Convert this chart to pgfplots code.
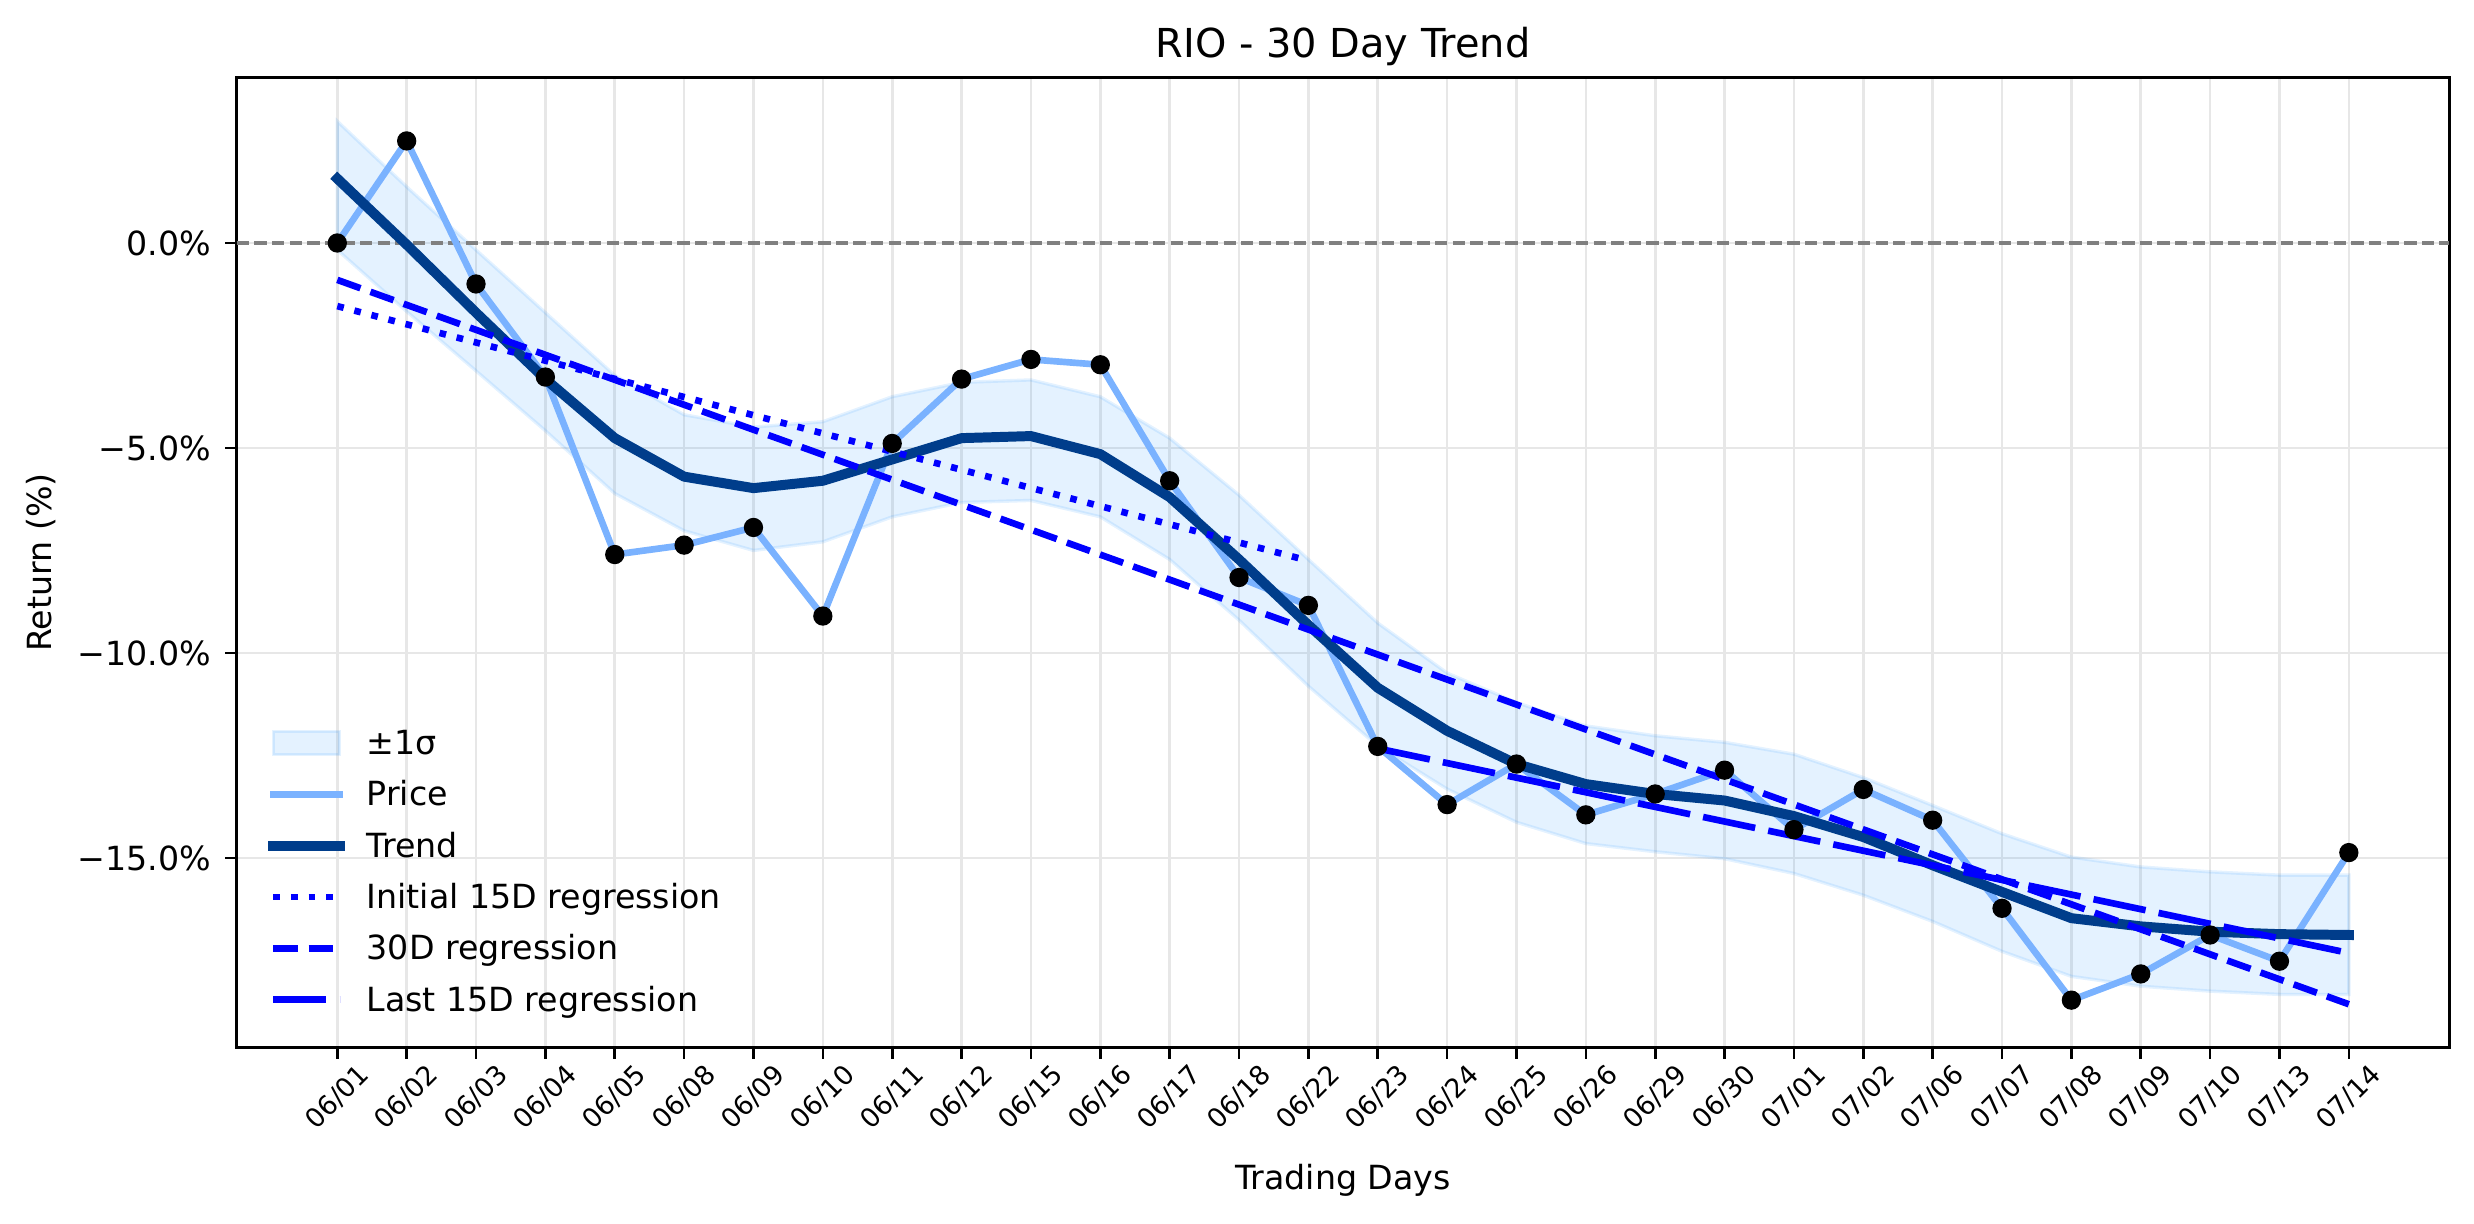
\documentclass[border=0pt]{standalone}
\usepackage{fontspec}
\setmainfont{DejaVu Sans}
\usepackage{pgfplots}
\pgfplotsset{compat=1.18}
\usepackage{pgfplotstable}
\usepgfplotslibrary{fillbetween}

\definecolor{pricec}{RGB}{122,178,255}
\definecolor{trendc}{RGB}{0,61,139}
\definecolor{bandc}{RGB}{30,144,255}
\definecolor{gridc}{RGB}{231,231,231}
\definecolor{regc}{RGB}{0,0,255}

\pgfplotsset{
  lineleg/.style={legend image code/.code={\draw[##1] (0pt,0pt) -- (20pt,0pt);}},
  boxleg/.style={legend image code/.code={\draw[##1] (0pt,-3.5pt) rectangle (20pt,3.5pt);}},
}

% day index, daily return, smoothed trend, trend +/- 1 sigma
\pgfplotstableread{
x price trend upper lower
0 0.00 1.57 2.97 -0.17
1 2.49 -0.04 1.37 -1.67
2 -1.00 -1.70 -0.17 -3.12
3 -3.27 -3.32 -1.70 -4.58
4 -7.60 -4.76 -3.23 -6.11
5 -7.37 -5.70 -4.19 -7.02
6 -6.94 -5.98 -4.49 -7.50
7 -9.10 -5.80 -4.36 -7.29
8 -4.89 -5.28 -3.75 -6.68
9 -3.32 -4.76 -3.40 -6.33
10 -2.84 -4.71 -3.34 -6.28
11 -2.97 -5.15 -3.75 -6.68
12 -5.80 -6.20 -4.76 -7.72
13 -8.16 -7.72 -6.15 -9.20
14 -8.84 -9.32 -7.72 -10.81
15 -12.28 -10.85 -9.27 -12.27
16 -13.70 -11.90 -10.49 -13.32
17 -12.71 -12.71 -11.21 -14.13
18 -13.95 -13.20 -11.78 -14.65
19 -13.44 -13.44 -12.02 -14.85
20 -12.86 -13.60 -12.18 -15.02
21 -14.31 -13.98 -12.47 -15.38
22 -13.33 -14.49 -13.04 -15.91
23 -14.08 -15.18 -13.72 -16.55
24 -16.23 -15.83 -14.41 -17.28
25 -18.47 -16.47 -14.98 -17.89
26 -17.83 -16.67 -15.22 -18.13
27 -16.88 -16.80 -15.34 -18.25
28 -17.52 -16.86 -15.42 -18.33
29 -14.87 -16.88 -15.42 -18.33
}\rio

\begin{document}
\begin{tikzpicture}
\begin{axis}[
  width=665.5pt, height=291.6pt, scale only axis,
  xmin=-1.45, xmax=30.45, ymin=-19.62, ymax=4.03,
  axis line style={line width=0.8pt},
  tick align=outside, tick pos=left, major tick length=3.5pt,
  tick style={line width=0.8pt, black},
  xtick={0,...,29},
  xticklabels={06/01,06/02,06/03,06/04,06/05,06/08,06/09,06/10,06/11,06/12,06/15,06/16,06/17,06/18,06/22,06/23,06/24,06/25,06/26,06/29,06/30,07/01,07/02,07/06,07/07,07/08,07/09,07/10,07/13,07/14},
  xticklabel style={yshift=-11.5pt, rotate=45, anchor=center, inner sep=0pt, font=\fontsize{8}{9.6}\selectfont},
  ytick={-15,-10,-5,0},
  yticklabels={−15.0\%,−10.0\%,−5.0\%,0.0\%},
  yticklabel style={anchor=east, inner sep=0pt, xshift=-4pt, font=\fontsize{10}{12}\selectfont},
  grid=major, grid style={line width=0.8pt, gridc},
  title={RIO - 30 Day Trend},
  title style={at={(axis description cs:0.5,1)}, anchor=base, yshift=0pt, inner sep=0pt, font=\fontsize{12}{14.4}\selectfont},
  xlabel={Trading Days},
  xlabel style={at={(axis description cs:0.5,0)}, anchor=base, yshift=-42.9pt, inner sep=0pt, font=\fontsize{10}{12}\selectfont},
  ylabel={Return (\%)},
  ylabel style={at={([xshift=-55.6pt]axis description cs:0,0.5)}, anchor=base, inner sep=0pt, font=\fontsize{10}{12}\selectfont},
  legend style={at={(axis description cs:0,0)}, anchor=south west, xshift=9.5pt, yshift=6.6pt,
    draw=none, fill=none, inner sep=0pt, outer sep=0pt, row sep=0pt, column sep=6.6pt,
    font=\fontsize{10}{12}\selectfont,
    nodes={inner sep=0pt, text height=11.22pt, text depth=4.22pt}},
  legend cell align=left,
]
% +/- 1 sigma band around the trend
\addplot[name path=up, draw=none, forget plot] table[x=x, y=upper] {\rio};
\addplot[name path=lo, draw=none, forget plot] table[x=x, y=lower] {\rio};
\addplot[fill=bandc, fill opacity=0.12, draw=bandc, draw opacity=0.12, line width=1pt, boxleg]
  fill between[of=up and lo];
\addlegendentry{±1σ}

% zero reference line
\addplot[gray, line width=1pt, dash pattern=on 3.7pt off 1.6pt, forget plot]
  coordinates {(-1.45,0) (30.45,0)};

% daily price return
\addplot[pricec, line width=2pt, line cap=rect, line join=round, lineleg]
  table[x=x, y=price] {\rio};
\addlegendentry{Price}

% smoothed trend
\addplot[trendc, line width=3pt, line cap=rect, line join=round, lineleg]
  table[x=x, y=trend] {\rio};
\addlegendentry{Trend}

% least-squares fits
\addplot[regc, line width=2pt, dash pattern=on 2pt off 3.3pt, lineleg]
  coordinates {(0,-1.54) (14,-7.75)};
\addlegendentry{Initial 15D regression}

\addplot[regc, line width=2pt, dash pattern=on 7.4pt off 3.2pt, lineleg]
  coordinates {(0,-0.90) (29,-18.57)};
\addlegendentry{30D regression}

\addplot[regc, line width=2pt, dash pattern=on 16pt off 4pt, lineleg]
  coordinates {(15,-12.33) (29,-17.32)};
\addlegendentry{Last 15D regression}

% daily observations
\addplot[only marks, mark=*, mark size=2.7pt, black, forget plot]
  table[x=x, y=price] {\rio};
\end{axis}
\pgfresetboundingbox
\path ([shift={(-71.2pt,-53.1pt)}]current axis.south west) rectangle ([shift={(7.4pt,23.4pt)}]current axis.north east);
\end{tikzpicture}
\end{document}
